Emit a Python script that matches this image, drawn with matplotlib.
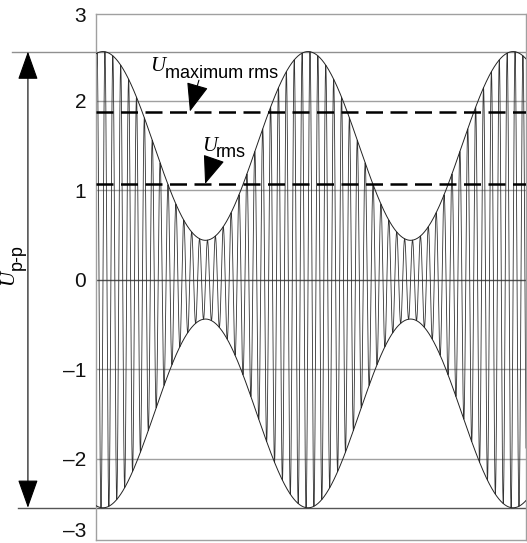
import numpy as np
import matplotlib
matplotlib.use('Agg')
import matplotlib.pyplot as plt

# values
env_max = 2.55         # peak of envelope
env_min = 0.44         # waist of envelope
cycles_per_period = 26 # carrier cycles per envelope period
t_start, t_end = -0.034, 2.063   # envelope periods shown
u_max_rms = 1.88
u_rms = 1.07
y_ticks = [2.97, 2, 1, 0, -1, -2, -2.79]
y_labels = ['3', '2', '1', '0', '\u20131', '\u20132', '\u20133']
grid_levels = [2, 1, 0, -1, -2]

t = np.linspace(t_start, t_end, 20000)
mid = (env_max + env_min) / 2
dev = (env_max - env_min) / 2
env = mid + dev * np.cos(2 * np.pi * t)
sig = env * np.sin(2 * np.pi * cycles_per_period * t)

fig = plt.figure(figsize=(5.27, 5.43), dpi=100)
ax = fig.add_axes([96/527, 3/543, 430/527, 526/543])
ax.set_xlim(t_start, t_end)
ax.set_ylim(-2.91, 2.93)

for y in grid_levels:
    c = '#555555' if y == 0 else '#a0a0a0'
    ax.axhline(y, color=c, lw=1.0, zorder=1)

ax.plot(t, sig, color='#333333', lw=0.6, zorder=2)
ax.plot(t, env, color='#222222', lw=0.7, zorder=3)
ax.plot(t, -env, color='#222222', lw=0.7, zorder=3)

ax.axhline(u_max_rms, color='black', lw=1.8, dashes=(6.8, 3), zorder=4)
ax.axhline(u_rms, color='black', lw=1.8, dashes=(6.8, 3), zorder=4)

# reference lines at peak levels, reaching out to the Up-p arrow
ax.plot([-0.444, t_end], [env_max, env_max], color='#909090', lw=1.0,
        clip_on=False, zorder=1)
ax.plot([-0.415, t_end], [-env_max, -env_max], color='#555555', lw=1.0,
        clip_on=False, zorder=1)

ax.annotate('', xy=(-0.366, env_max), xytext=(-0.366, -env_max),
            arrowprops=dict(arrowstyle='<|-|>,head_length=0.9,head_width=0.32',
                            color='black', lw=0.8, shrinkA=0, shrinkB=0,
                            mutation_scale=20),
            annotation_clip=False)

serif = dict(family='Liberation Serif', style='italic', fontsize=15)
sans = dict(family='Liberation Sans', fontsize=13)

ax.text(-0.462, 0.02, 'U', rotation=90, ha='center', va='center', **serif)
ax.text(-0.42, 0.25, 'p-p', rotation=90, ha='center', va='center', **sans)

ax.text(0.232, 2.33, 'U', ha='left', va='baseline', **serif)
ax.text(0.302, 2.26, 'maximum rms', ha='left', va='baseline', **sans)
ax.text(0.481, 1.44, 'U', ha='left', va='baseline', **serif)
ax.text(0.552, 1.37, 'rms', ha='left', va='baseline', **sans)

arrow = dict(arrowstyle='-|>,head_length=0.9,head_width=0.35', color='black',
             lw=0.8, shrinkA=0, shrinkB=0, mutation_scale=20)
ax.annotate('', xy=(0.424, u_max_rms), xytext=(0.468, 2.23), arrowprops=arrow, zorder=5)
ax.annotate('', xy=(0.498, u_rms), xytext=(0.537, 1.33), arrowprops=arrow, zorder=5)

ax.set_yticks(y_ticks)
ax.set_yticklabels(y_labels, family='Liberation Sans', fontsize=15, color='#111111')
ax.tick_params(axis='y', length=0, pad=7)
ax.set_xticks([])
for s in ax.spines.values():
    s.set_color('#a0a0a0')
    s.set_linewidth(1.0)

fig.savefig('out.png', dpi=100)
